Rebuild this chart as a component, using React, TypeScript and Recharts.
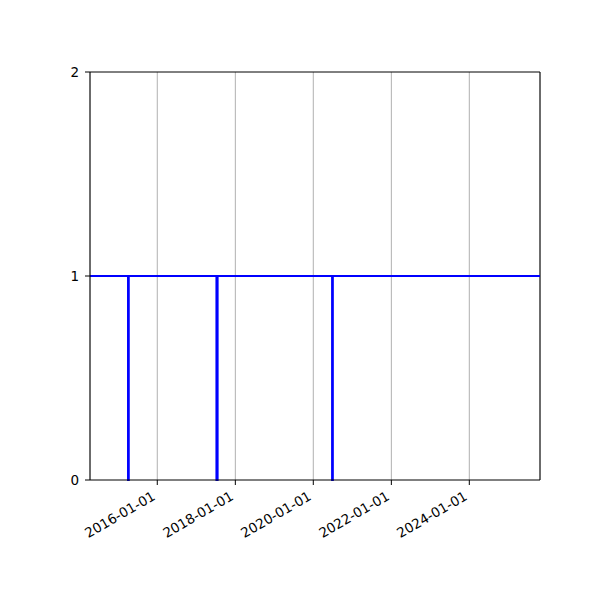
import React from "react";
import {
  LineChart,
  Line,
  XAxis,
  YAxis,
  CartesianGrid,
  ReferenceLine,
} from "recharts";

// status samples: 1 = up, 0 = down
const dates = [
  "2014-04-11",
  "2015-04-02",
  "2015-04-02",
  "2015-04-09",
  "2015-04-09",
  "2017-07-08",
  "2017-07-08",
  "2017-07-19",
  "2017-07-19",
  "2020-06-25",
  "2020-06-25",
  "2020-07-02",
  "2020-07-02",
  "2025-10-24",
];
const values = [1, 1, 0, 0, 1, 1, 0, 0, 1, 1, 0, 0, 1, 1];

const tickDates = [
  "2016-01-01",
  "2018-01-01",
  "2020-01-01",
  "2022-01-01",
  "2024-01-01",
];
const yTicks = [0, 1, 2];

const toTime = (d: string) => Date.parse(d + "T00:00:00Z");

const data = dates.map((d, i) => ({ t: toTime(d), v: values[i] }));
const xTicks = tickDates.map(toTime);
const xMin = toTime("2014-04-11");
const xMax = toTime("2025-10-24");

const FONT = "DejaVu Sans, sans-serif";

function fmt(t: number) {
  return new Date(t).toISOString().slice(0, 10);
}

function DateTick(props: any) {
  const { x, y, payload } = props;
  return (
    <text
      transform={`translate(${x - 1},${y + 12}) rotate(-30)`}
      textAnchor="end"
      fontSize={13.5}
      fontFamily={FONT}
      fill="#000"
    >
      {fmt(payload.value)}
    </text>
  );
}

export default function App() {
  return (
    <div
      style={{
        position: "absolute",
        left: 0,
        top: 0,
        width: 600,
        height: 600,
        background: "#fff",
      }}
    >
      <LineChart
        width={600}
        height={600}
        data={data}
        margin={{ top: 72, right: 60, bottom: 60, left: 0 }}
      >
        <CartesianGrid horizontal={false} stroke="#b0b0b0" strokeWidth={1} />
        <XAxis
          dataKey="t"
          type="number"
          scale="time"
          domain={[xMin, xMax]}
          ticks={xTicks}
          allowDataOverflow
          height={60}
          stroke="#000"
          tickSize={5}
          tick={<DateTick />}
          interval={0}
        />
        <YAxis
          domain={[0, 2]}
          ticks={yTicks}
          width={90}
          stroke="#000"
          tickSize={5}
          tickMargin={6}
          tick={{ fontSize: 13.5, fontFamily: FONT, fill: "#000" }}
          interval={0}
        />
        <ReferenceLine y={2} stroke="#000" strokeWidth={1} />
        <ReferenceLine x={xMax} stroke="#000" strokeWidth={1} />
        <Line
          type="linear"
          dataKey="v"
          stroke="#0000ff"
          strokeWidth={2}
          dot={false}
          isAnimationActive={false}
        />
      </LineChart>
    </div>
  );
}
